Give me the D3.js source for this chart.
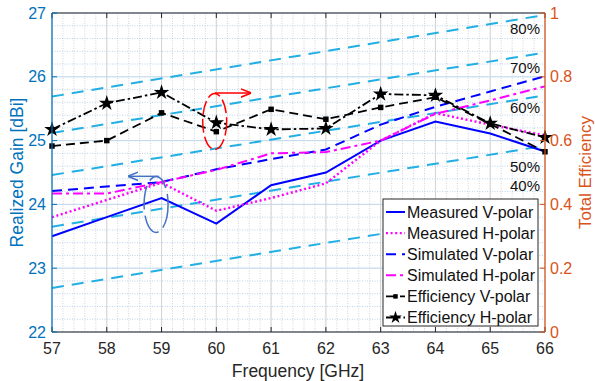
<!DOCTYPE html>
<html><head><meta charset="utf-8">
<script src="https://cdn.jsdelivr.net/npm/d3@7"></script>
<style>body{margin:0;background:#fff}svg{display:block;font-family:Arial,"Liberation Sans",Helvetica,sans-serif}</style>
</head><body><svg id="c" width="595" height="381"></svg>
<script>
const freqs = [57,58,59,60,61,62,63,64,65,66];
const measV = [23.5,23.8,24.1,23.7,24.3,24.5,25.0,25.3,25.11,24.83];
const measH = [23.8,24.07,24.34,23.9,24.1,24.33,25.0,25.43,25.25,25.08];
const simV  = [24.21,24.28,24.35,24.55,24.71,24.86,25.25,25.53,25.77,26.01];
const simH  = [24.17,24.17,24.35,24.54,24.8,24.82,25.0,25.42,25.63,25.85];
const effV  = [0.583,0.600,0.687,0.628,0.698,0.667,0.704,0.736,0.652,0.565];
const effH  = [0.635,0.717,0.751,0.656,0.635,0.638,0.746,0.742,0.654,0.610];
const contourLabels = ["80%","70%","60%","50%","40%"];
const contourStart = [25.69,25.12,24.46,23.65,22.69];
const contourEnd   = [26.97,26.38,25.71,24.92,23.96];
const contourLabelGain = [26.76,26.14,25.51,24.59,24.29];
const xTicks = [57,58,59,60,61,62,63,64,65,66];
const yLTicks = [22,23,24,25,26,27];
const yRTicks = [0,0.2,0.4,0.6,0.8,1];
const yRTickLabels = ["0","0.2","0.4","0.6","0.8","1"];
const legendNames = ["Measured V-polar","Measured H-polar","Simulated V-polar","Simulated H-polar","Efficiency V-polar","Efficiency H-polar"];

const L=52,R=545,T=13,B=332;
const BLUEAX="#0072BD", ORANGE="#D95319", DARK="#262626", CYAN="#22afe3";
const svg=d3.select("#c");
const x=d3.scaleLinear().domain([57,66]).range([L,R]);
const yL=d3.scaleLinear().domain([22,27]).range([B,T]);
const yR=d3.scaleLinear().domain([0,1]).range([B,T]);

// grid
const g=svg.append("g");
const xMinor=d3.range(57,66.001,0.2);
const yMinor=d3.range(22,27.001,0.2);
g.selectAll(".xm").data(xMinor).join("line").attr("x1",d=>x(d)).attr("x2",d=>x(d)).attr("y1",T).attr("y2",B)
 .attr("stroke","#9a9a9a").attr("stroke-opacity",0.55).attr("stroke-width",0.8).attr("stroke-dasharray","1,1.5");
g.selectAll(".ym").data(yMinor).join("line").attr("y1",d=>yL(d)).attr("y2",d=>yL(d)).attr("x1",L).attr("x2",R)
 .attr("stroke","#7fb2dc").attr("stroke-opacity",0.7).attr("stroke-width",0.8).attr("stroke-dasharray","1,1.5");
g.selectAll(".xM").data(xTicks).join("line").attr("x1",d=>x(d)).attr("x2",d=>x(d)).attr("y1",T).attr("y2",B)
 .attr("stroke","#d4d4d4").attr("stroke-width",1);
g.selectAll(".yM").data(yLTicks).join("line").attr("y1",d=>yL(d)).attr("y2",d=>yL(d)).attr("x1",L).attr("x2",R)
 .attr("stroke","#c3d9ee").attr("stroke-width",1);

// contour lines
svg.append("g").selectAll("line").data(contourStart).join("line")
 .attr("x1",x(57)).attr("x2",x(66)).attr("y1",d=>yL(d)).attr("y2",(d,i)=>yL(contourEnd[i]))
 .attr("stroke",CYAN).attr("stroke-width",2).attr("stroke-dasharray","12,8");

const lineL=d3.line().x((d,i)=>x(freqs[i])).y(d=>yL(d));
const lineR=d3.line().x((d,i)=>x(freqs[i])).y(d=>yR(d));
const series=[
 {d:measV,gen:lineL,c:"#0000ff",w:2,da:null},
 {d:measH,gen:lineL,c:"#ff00ff",w:2.4,da:"2,2.6"},
 {d:simV,gen:lineL,c:"#0000ff",w:2,da:"10,6"},
 {d:simH,gen:lineL,c:"#ff00ff",w:2,da:"10,4,3,4"},
 {d:effV,gen:lineR,c:"#000",w:1.8,da:"9,5"},
 {d:effH,gen:lineR,c:"#000",w:1.8,da:"9,3,2.5,3"}
];
series.forEach(s=>{
 svg.append("path").attr("d",s.gen(s.d)).attr("fill","none").attr("stroke",s.c).attr("stroke-width",s.w)
  .attr("stroke-dasharray",s.da);
});
svg.append("g").selectAll("path").data(effV).join("path")
 .attr("transform",(d,i)=>`translate(${x(freqs[i])},${yR(d)})`).attr("d",d3.symbol(d3.symbolSquare,30)).attr("fill","#000");
svg.append("g").selectAll("path").data(effH).join("path")
 .attr("transform",(d,i)=>`translate(${x(freqs[i])},${yR(d)})`).attr("d",d3.symbol(d3.symbolStar,75)).attr("fill","#000");

// contour labels
svg.append("g").selectAll("text").data(contourLabels).join("text")
 .attr("x",540).attr("y",(d,i)=>yL(contourLabelGain[i])).attr("dy","0.35em").attr("text-anchor","end")
 .attr("font-size",15).attr("fill","#111").text(d=>d);

// annotations
const defs=svg.append("defs");
defs.append("marker").attr("id","ar").attr("viewBox","0 0 10 10").attr("refX",9).attr("refY",5)
 .attr("markerWidth",7).attr("markerHeight",7).attr("orient","auto-start-reverse")
 .append("path").attr("d","M0,1 L10,5 L0,9").attr("fill","none").attr("stroke","#ff0000").attr("stroke-width",1.5);
defs.append("marker").attr("id","ab").attr("viewBox","0 0 10 10").attr("refX",9).attr("refY",5)
 .attr("markerWidth",7).attr("markerHeight",7).attr("orient","auto-start-reverse")
 .append("path").attr("d","M0,1 L10,5 L0,9").attr("fill","none").attr("stroke","#4472c4").attr("stroke-width",1.5);
svg.append("ellipse").attr("cx",x(59.97)).attr("cy",yR(0.66)).attr("rx",12).attr("ry",28)
 .attr("fill","none").attr("stroke","#ff0000").attr("stroke-width",1.5).attr("stroke-dasharray","14,4");
svg.append("line").attr("x1",x(59.97)).attr("x2",x(60.62)).attr("y1",yR(0.749)).attr("y2",yR(0.749))
 .attr("stroke","#ff0000").attr("stroke-width",1.5).attr("marker-end","url(#ar)");
svg.append("ellipse").attr("cx",x(58.9)).attr("cy",yL(24.0)).attr("rx",12).attr("ry",28)
 .attr("fill","none").attr("stroke","#4472c4").attr("stroke-width",1.5).attr("stroke-dasharray","24,6");
svg.append("line").attr("x1",x(58.95)).attr("x2",x(58.4)).attr("y1",yL(24.44)).attr("y2",yL(24.44))
 .attr("stroke","#4472c4").attr("stroke-width",1.5).attr("marker-end","url(#ab)");

// axes box
svg.append("line").attr("x1",L).attr("x2",R).attr("y1",T).attr("y2",T).attr("stroke",DARK).attr("stroke-width",1);
svg.append("line").attr("x1",L).attr("x2",R).attr("y1",B).attr("y2",B).attr("stroke",DARK).attr("stroke-width",1);
const ax=svg.append("g");
ax.selectAll(".bt").data(xTicks).join("line").attr("x1",d=>x(d)).attr("x2",d=>x(d)).attr("y1",B).attr("y2",B-5).attr("stroke",DARK);
ax.selectAll(".tt").data(xTicks).join("line").attr("x1",d=>x(d)).attr("x2",d=>x(d)).attr("y1",T).attr("y2",T+5).attr("stroke",DARK);
ax.selectAll(".xl").data(xTicks).join("text").attr("x",d=>x(d)).attr("y",354).attr("text-anchor","middle")
 .attr("font-size",16).attr("fill",DARK).text(d=>d);
svg.append("text").attr("x",298).attr("y",377).attr("text-anchor","middle").attr("font-size",17.5).attr("fill",DARK).text("Frequency [GHz]");
// left axis
svg.append("line").attr("x1",L).attr("x2",L).attr("y1",T).attr("y2",B).attr("stroke",BLUEAX).attr("stroke-width",1.2);
ax.selectAll(".lt").data(yLTicks).join("line").attr("x1",L).attr("x2",L+5).attr("y1",d=>yL(d)).attr("y2",d=>yL(d)).attr("stroke",BLUEAX);
ax.selectAll(".ll").data(yLTicks).join("text").attr("x",L-6).attr("y",d=>yL(d)).attr("dy","0.35em").attr("text-anchor","end")
 .attr("font-size",16).attr("fill",BLUEAX).text(d=>d);
svg.append("text").attr("transform",`translate(23,${(T+B)/2}) rotate(-90)`).attr("text-anchor","middle")
 .attr("font-size",17.5).attr("fill",BLUEAX).text("Realized Gain [dBi]");
// right axis
svg.append("line").attr("x1",R).attr("x2",R).attr("y1",T).attr("y2",B).attr("stroke",ORANGE).attr("stroke-width",1.2);
ax.selectAll(".rt").data(yRTicks).join("line").attr("x1",R).attr("x2",R-5).attr("y1",d=>yR(d)).attr("y2",d=>yR(d)).attr("stroke",ORANGE);
ax.selectAll(".rl").data(yRTicks).join("text").attr("x",R+5).attr("y",d=>yR(d)).attr("dy","0.35em").attr("text-anchor","start")
 .attr("font-size",16).attr("fill",ORANGE).text((d,i)=>yRTickLabels[i]);
svg.append("text").attr("transform",`translate(585,${(T+B)/2}) rotate(-90)`).attr("dy","0.35em").attr("text-anchor","middle")
 .attr("font-size",17).attr("fill",ORANGE).text("Total Efficiency");

// legend
const lg=svg.append("g");
lg.append("rect").attr("x",383).attr("y",199).attr("width",155).attr("height",127).attr("fill","#fff").attr("stroke","#262626").attr("stroke-width",1);
legendNames.forEach((n,i)=>{
 const yy=212+i*21.1, s=series[i];
 lg.append("line").attr("x1",386).attr("x2",405).attr("y1",yy).attr("y2",yy).attr("stroke",s.c).attr("stroke-width",s.w)
  .attr("stroke-dasharray",s.da);
 if(i===4) lg.append("path").attr("transform",`translate(395.5,${yy})`).attr("d",d3.symbol(d3.symbolSquare,20)).attr("fill","#000");
 if(i===5) lg.append("path").attr("transform",`translate(395.5,${yy})`).attr("d",d3.symbol(d3.symbolStar,50)).attr("fill","#000");
 lg.append("text").attr("x",407).attr("y",yy).attr("dy","0.35em").attr("font-size",16).attr("fill","#111").text(n);
});
</script></body></html>
